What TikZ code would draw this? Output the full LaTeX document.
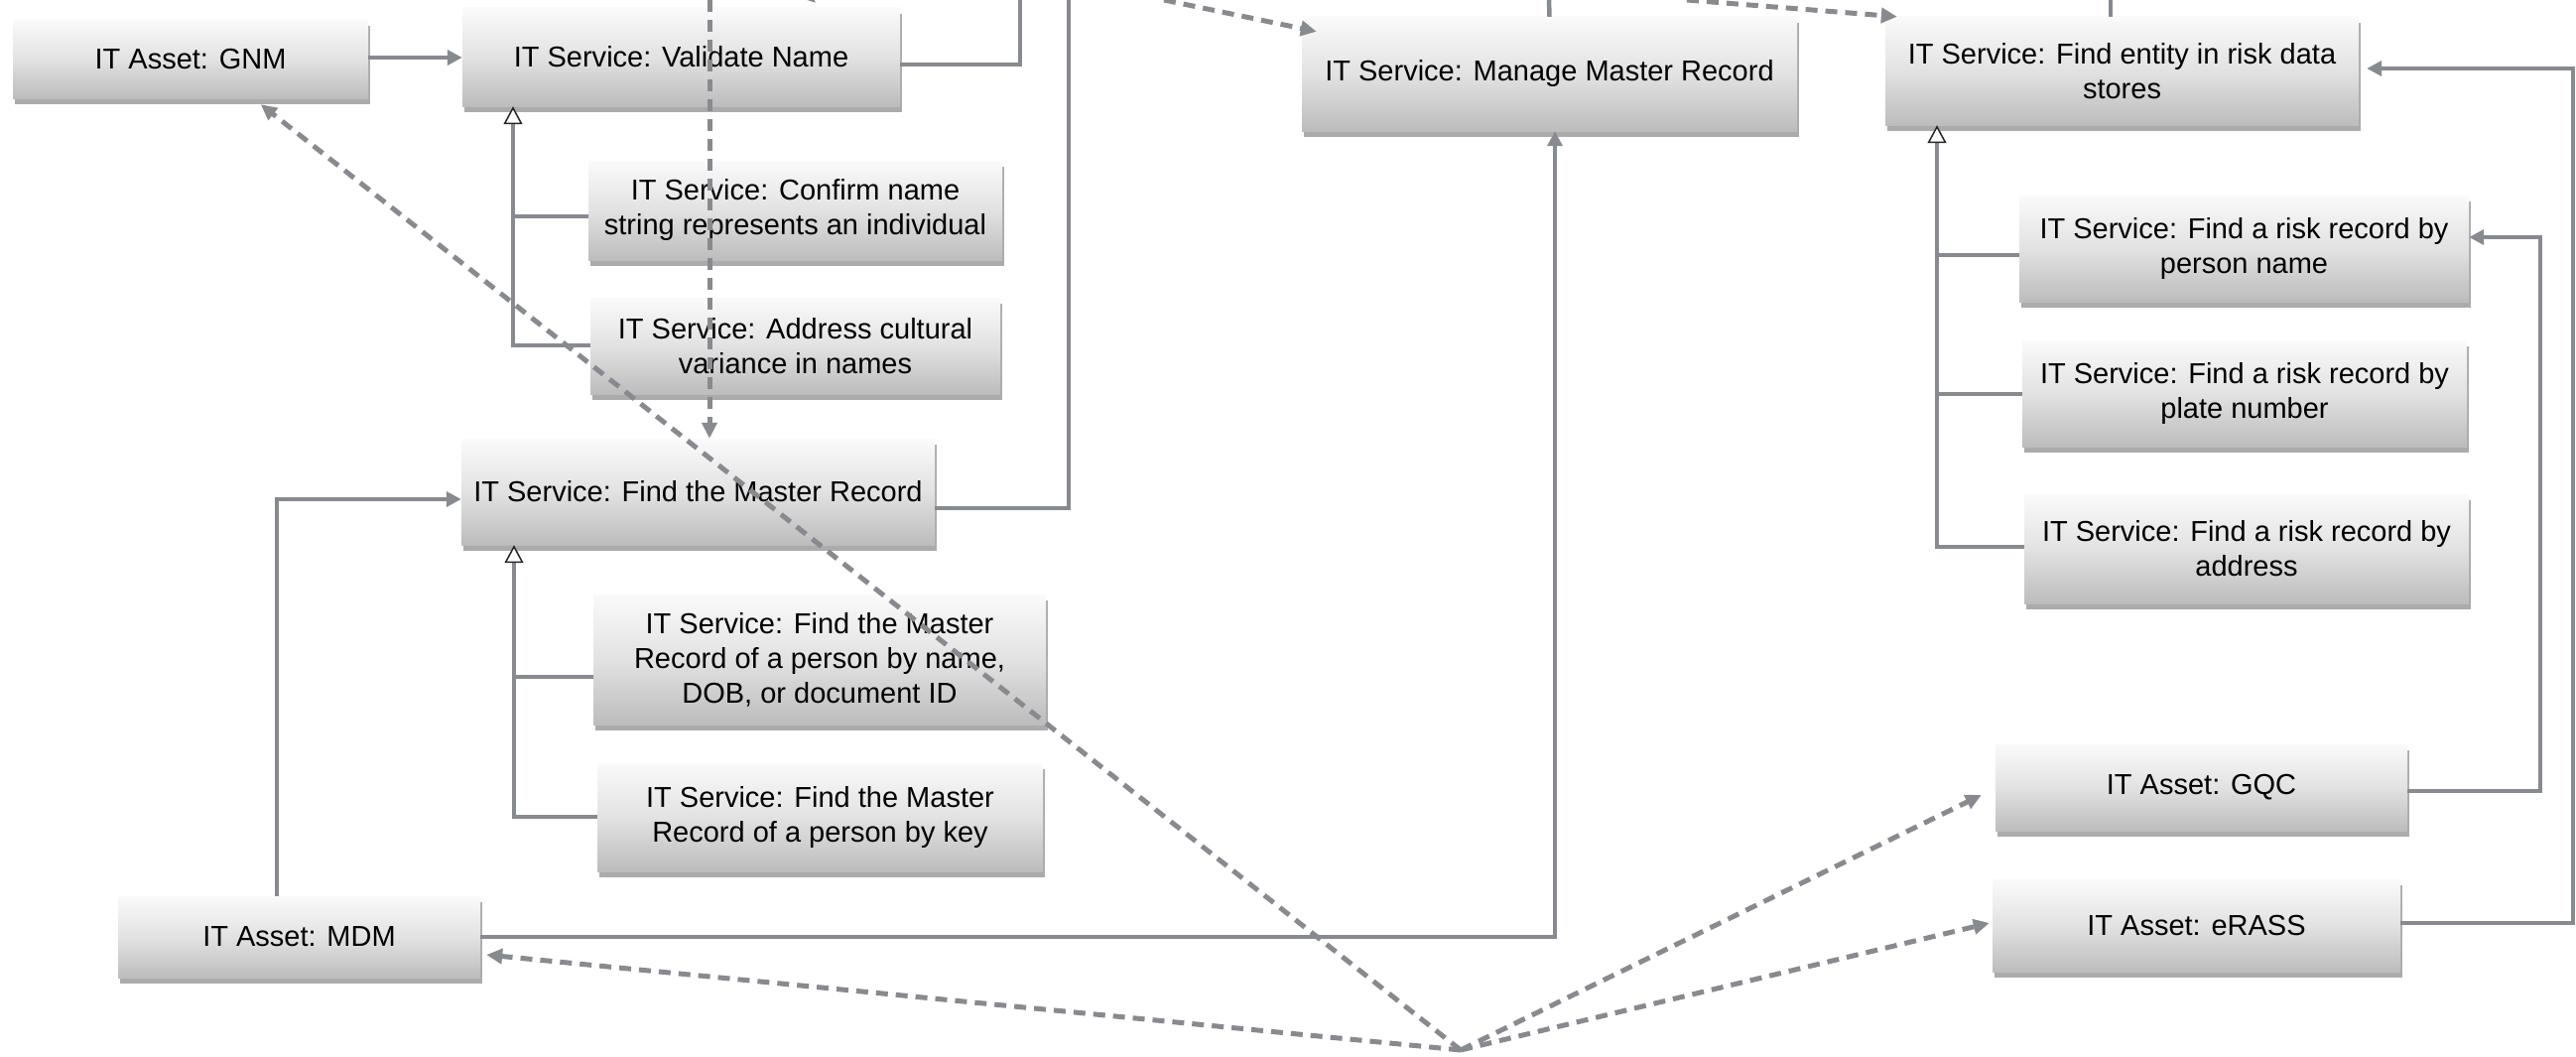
\documentclass[tikz,border=0pt]{standalone}
\usepackage{fontspec}
\setmainfont{Liberation Sans}
\usetikzlibrary{arrows.meta,shadows,calc}
\definecolor{linegray}{RGB}{135,138,143}
\definecolor{boxtop}{RGB}{250,250,250}
\definecolor{boxmid}{RGB}{226,226,226}
\definecolor{boxbot}{RGB}{188,188,188}
\tikzset{
  box/.style={rectangle, inner sep=0pt, align=center,
    font=\fontsize{29}{35}\selectfont,
    top color=boxtop, bottom color=boxbot, middle color=boxmid,
    drop shadow={shadow xshift=2pt, shadow yshift=-6pt, fill=black!60, opacity=0.55}},
  conn/.style={draw=linegray, line width=4.5pt},
  arr/.style={conn, -{Triangle[length=15pt,width=15pt]}},
  darr/.style={draw=linegray, line width=5pt, dash pattern=on 12pt off 8pt,
    -{Triangle[length=16pt,width=15pt]}},
  gen/.style={conn, -{Triangle[length=18pt,width=19pt,line width=1.5pt,color=black!85,fill=white]}}
}
\begin{document}
\begin{tikzpicture}[x=1pt,y=-1pt]
\useasboundingbox (0,0) rectangle (2596,1065);
\clip (0,0) rectangle (2596,1065);

% nodes
\node[box, minimum width=358pt, minimum height=79pt] (gnm) at (192,59.5) {IT Asset: GNM};
\node[box, minimum width=441pt, minimum height=99pt] (val) at (686.5,57.5) {IT Service: Validate Name};
\node[box, minimum width=417pt, minimum height=100pt] (conf) at (801.5,212) {IT Service: Confirm name\\string represents an individual};
\node[box, minimum width=413pt, minimum height=97pt] (addr) at (801.5,348.5) {IT Service: Address cultural\\variance in names};
\node[box, minimum width=477pt, minimum height=107pt] (fmr) at (703.5,495.5) {IT Service: Find the Master Record};
\node[box, minimum width=456pt, minimum height=131pt] (fmrn) at (826,664.5) {IT Service: Find the Master\\Record of a person by name,\\DOB, or document ID};
\node[box, minimum width=449pt, minimum height=109pt] (fmrk) at (826.5,823.5) {IT Service: Find the Master\\Record of a person by key};
\node[box, minimum width=365pt, minimum height=82pt] (mdm) at (301.5,944) {IT Asset: MDM};
\node[box, minimum width=499pt, minimum height=115pt] (mmr) at (1561.5,74.5) {IT Service: Manage Master Record};
\node[box, minimum width=477pt, minimum height=109pt] (fent) at (2138.5,71.5) {IT Service: Find entity in risk data\\stores};
\node[box, minimum width=453pt, minimum height=107pt] (rpn) at (2261.5,250.5) {IT Service: Find a risk record by\\person name};
\node[box, minimum width=448pt, minimum height=107pt] (rpl) at (2262,396.5) {IT Service: Find a risk record by\\plate number};
\node[box, minimum width=448pt, minimum height=110pt] (rad) at (2264,553) {IT Service: Find a risk record by\\address};
\node[box, minimum width=415pt, minimum height=87pt] (gqc) at (2218.5,793.5) {IT Asset: GQC};
\node[box, minimum width=411pt, minimum height=93pt] (erass) at (2213.5,932.5) {IT Asset: eRASS};

% coordinates for connector ends outside the visible frame
\coordinate (tA) at (1028,0);
\coordinate (tB) at (1077,0);
\coordinate (tC) at (715,0);
\coordinate (tD) at (1173,0);
\coordinate (tE) at (1561,0);
\coordinate (tF) at (2127,0);
\coordinate (tG) at (1700,0);
\coordinate (tH) at (770,-50);
\coordinate (hub) at (1472,1058);
\coordinate (vt) at (517,348);
\coordinate (ft) at (518,823);
\coordinate (et) at (1952,551);
\coordinate (gx) at (2560,0);
\coordinate (ex) at (2593,0);

% solid connectors
\draw[arr] (gnm.east |- 0,58) -- (val.west |- 0,58);
\draw[conn] (val.east |- 0,65) -| (tA);
\draw[conn] (fmr.east |- 0,512) -| (tB);
\draw[conn] (mmr.north) -- (tE);
\draw[conn] (tF |- fent.north) -- (tF);
\draw[arr] (mdm.north -| 279,0) |- (fmr.west |- 0,503);
\draw[arr] (mdm.east) -| (mmr.south -| 1567,0);
\draw[arr] (gqc.east |- 0,797) -| (gx |- 0,239) -- (rpn.east |- 0,239);
\draw[arr] (erass.east |- 0,930) -| (ex |- 0,69) -- ($(fent.east |- 0,69)+(8,0)$);

% generalisation trees
\draw[conn] (conf.west |- 0,218) -- (vt |- 0,218);
\draw[gen] (addr.west |- vt) -- (vt) -- (vt |- val.south);
\draw[conn] (fmrn.west |- 0,682) -- (ft |- 0,682);
\draw[gen] (fmrk.west |- ft) -- (ft) -- (ft |- fmr.south);
\draw[conn] (rpn.west |- 0,257) -- (et |- 0,257);
\draw[conn] (rpl.west |- 0,397) -- (et |- 0,397);
\draw[gen] (rad.west |- et) -- (et) -- (et |- fent.south);

% dashed connectors
\draw[darr] (tC) -- (tC |- fmr.north);
\draw[darr] (tD) -- ($(mmr.north west)+(15,15)$);
\draw[darr] (tG) -- ($(fent.north west)+(12,0)$);
\draw[darr] (tH) -- (822,3);
\draw[darr] (hub) -- ($(gnm.south west)+(250,6)$);
\draw[darr] (hub) -- ($(mdm.east)+(6,18)$);
\draw[darr] (hub) -- ($(gqc.west)+(-14,7.5)$);
\draw[darr] (hub) -- ($(erass.west)+(-3,-2.5)$);
\end{tikzpicture}
\end{document}
